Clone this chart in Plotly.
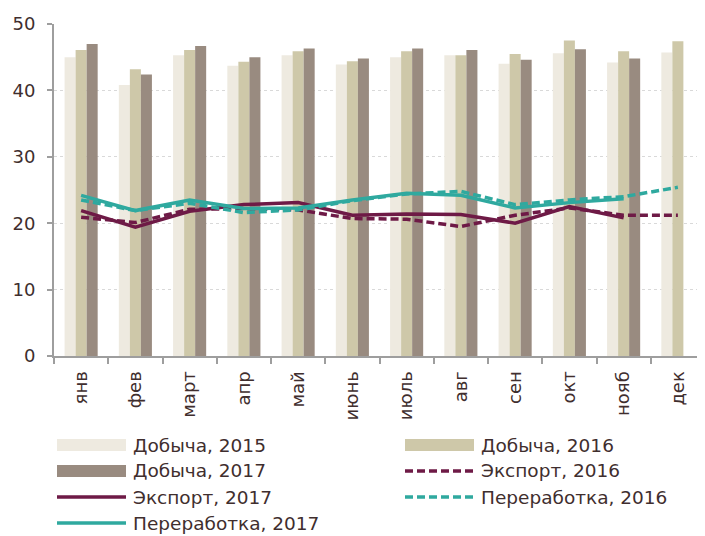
import plotly.graph_objects as go

months = ["янв", "фев", "март", "апр", "май", "июнь", "июль", "авг", "сен", "окт", "нояб", "дек"]
y_ticks = [0, 10, 20, 30, 40, 50]

dobycha_2015 = [45.0, 40.8, 45.3, 43.7, 45.3, 43.9, 45.0, 45.3, 44.0, 45.6, 44.2, 45.7]
dobycha_2016 = [46.1, 43.2, 46.1, 44.3, 45.9, 44.4, 45.9, 45.3, 45.5, 47.5, 45.9, 47.4]
dobycha_2017 = [47.0, 42.4, 46.7, 45.0, 46.3, 44.8, 46.3, 46.1, 44.6, 46.2, 44.8, None]
eksport_2016 = [20.9, 20.1, 22.1, 22.2, 22.0, 20.7, 20.6, 19.5, 21.2, 22.3, 21.2, 21.2]
eksport_2017 = [21.9, 19.4, 21.8, 22.8, 23.1, 21.2, 21.4, 21.3, 20.0, 22.5, 20.8, None]
pererab_2016 = [23.5, 21.9, 23.0, 21.6, 22.0, 23.4, 24.4, 24.8, 22.8, 23.5, 24.0, 25.4]
pererab_2017 = [24.2, 21.9, 23.5, 22.2, 22.3, 23.5, 24.5, 24.2, 22.3, 23.1, 23.7, None]

names = ["Добыча, 2015", "Добыча, 2016", "Добыча, 2017", "Экспорт, 2016",
         "Экспорт, 2017", "Переработка, 2016", "Переработка, 2017"]

C15, C16, C17 = "#EEEAE0", "#CEC8A9", "#998B80"
MAROON, TEAL = "#6E1A46", "#2FA99F"
TXT = "#3F2E2E"
FONT = "DejaVu Sans"

# page body has an 8px margin; figure is sized so the plot lands where the reference has it
OFF = 8
W, H = 705 - OFF, 536 - OFF
ML, MR, MT, MB = 54 - OFF, 0, 24 - OFF, 180
PW, PH = W - ML - MR, H - MT - MB

fig = go.Figure()
for vals, col, nm in [(dobycha_2015, C15, names[0]), (dobycha_2016, C16, names[1]),
                      (dobycha_2017, C17, names[2])]:
    fig.add_trace(go.Bar(x=months, y=vals, name=nm, marker=dict(color=col, line_width=0),
                         showlegend=False))

line_specs = [(eksport_2016, MAROON, "8px,4px", names[3]),
              (eksport_2017, MAROON, "solid", names[4]),
              (pererab_2016, TEAL, "8px,4px", names[5]),
              (pererab_2017, TEAL, "solid", names[6])]
for vals, col, dash, nm in line_specs:
    fig.add_trace(go.Scatter(x=months, y=vals, name=nm, mode="lines",
                             line=dict(color=col, width=3.5, dash=dash),
                             showlegend=False, connectgaps=False))

# manual legend (styled like the reference), positions given in page pixels
def px_x(p):
    return (p - OFF - ML) / PW

def px_y(p):
    return (H - MB - (p - OFF)) / PH

legend_rows = [445, 471, 497, 523]
legend_cols = [57, 405]
legend_items = [
    (names[0], "bar", C15, None), (names[1], "bar", C16, None),
    (names[2], "bar", C17, None), (names[3], "line", MAROON, "dash"),
    (names[4], "line", MAROON, "solid"), (names[5], "line", TEAL, "dash"),
    (names[6], "line", TEAL, "solid"),
]
shapes = []
annotations = []
for i, (nm, kind, col, dash) in enumerate(legend_items):
    r, c = divmod(i, 2)
    x0 = legend_cols[c]
    x1 = x0 + 69
    yc = legend_rows[r]
    if kind == "bar":
        shapes.append(dict(type="rect", xref="paper", yref="paper",
                           x0=px_x(x0), x1=px_x(x1), y0=px_y(yc + 6), y1=px_y(yc - 6),
                           fillcolor=col, line=dict(width=0)))
    else:
        shapes.append(dict(type="line", xref="paper", yref="paper",
                           x0=px_x(x0), x1=px_x(x1), y0=px_y(yc), y1=px_y(yc),
                           line=dict(color=col, width=3.5,
                                     dash="8px,4px" if dash == "dash" else "solid")))
    annotations.append(dict(text=nm, xref="paper", yref="paper", x=px_x(x1 + 5),
                            y=px_y(yc), xanchor="left", yanchor="middle",
                            showarrow=False, font=dict(family=FONT, size=18.5, color=TXT)))

fig.update_layout(
    width=W, height=H,
    margin=dict(l=ML, r=MR, t=MT, b=MB, autoexpand=False),
    paper_bgcolor="white", plot_bgcolor="white",
    barmode="group", bargap=0.39, bargroupgap=0,
    font=dict(family=FONT, size=18, color=TXT),
    shapes=shapes, annotations=annotations,
    showlegend=False,
)
fig.update_xaxes(
    type="category", tickangle=-90, showline=True, linecolor="#9E9E9E", linewidth=2,
    ticks="outside", tickson="boundaries", ticklen=6, tickcolor="#9E9E9E", tickwidth=2,
    showgrid=False, ticklabelstandoff=6, automargin=False,
    tickfont=dict(family=FONT, size=18, color=TXT),
)
fig.update_yaxes(
    range=[0, 50], tickvals=y_ticks, showline=True, linecolor="#9E9E9E", linewidth=2,
    ticks="outside", ticklen=5, tickcolor="#9E9E9E", tickwidth=2,
    showgrid=True, gridcolor="#D9D9D9", griddash="dot", gridwidth=1,
    zeroline=False, ticklabelstandoff=8, automargin=False,
    tickfont=dict(family=FONT, size=18, color=TXT),
)

fig.write_html("out.html")
